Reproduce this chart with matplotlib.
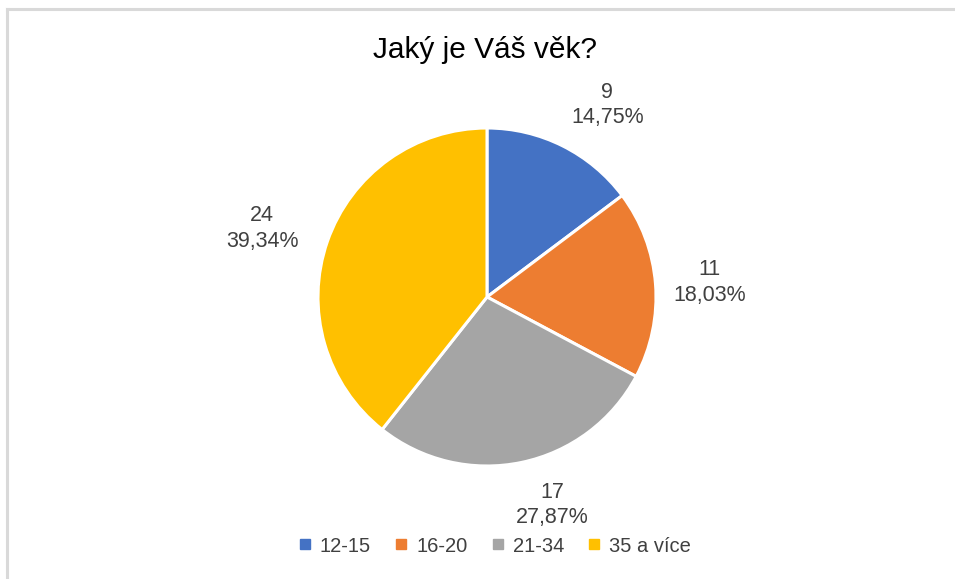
import matplotlib
matplotlib.use('Agg')
import matplotlib.pyplot as plt
from matplotlib.lines import Line2D
import numpy as np

# Data
categories = ['12-15', '16-20', '21-34', '35 a více']
counts = [9, 11, 17, 24]
percents = ['14,75%', '18,03%', '27,87%', '39,34%']
colors = ['#4472C4', '#ED7D31', '#A5A5A5', '#FFC000']

TXT = '#404040'
FONT = 'Liberation Sans'

fig = plt.figure(figsize=(9.55, 5.79), dpi=100)
fig.patch.set_facecolor('white')

# pie axes: center ~ (487, 282) px from bottom-left, radius ~169 px
lim = 1.6
R = 169
size = 2 * lim * R
ax = fig.add_axes([(487 - size / 2) / 955, (282 - size / 2) / 579, size / 955, size / 579])

wedges, _ = ax.pie(counts, colors=colors, startangle=90, counterclock=False,
                   radius=1.0, wedgeprops=dict(edgecolor='white', linewidth=2.2))
ax.set_xlim(-lim, lim)
ax.set_ylim(-lim, lim)
ax.set_aspect('equal')
ax.axis('off')

# data labels outside the slices (best-fit style nudges)
label_r = [1.34, 1.32, 1.29, 1.39]
label_shift = [-5.5, -0.7, 5.6, 2.2]
for w, n, p, r, s in zip(wedges, counts, percents, label_r, label_shift):
    th = np.deg2rad((w.theta1 + w.theta2) / 2 + s)
    ax.text(r * np.cos(th), r * np.sin(th), f'{n}\n{p}', ha='center', va='center',
            fontsize=15.5, color=TXT, family=FONT, linespacing=1.3)

fig.text(485 / 955, 1 - 50 / 579, 'Jaký je Váš věk?', ha='center', va='center',
         fontsize=21.5, color='black', family=FONT)

handles = [Line2D([0], [0], marker='s', linestyle='none', markersize=7,
                  markerfacecolor=c, markeredgecolor=c) for c in colors]
fig.legend(handles, categories, loc='center', bbox_to_anchor=(493 / 955, 33 / 579),
           ncol=4, frameon=False, prop={'family': FONT, 'size': 14.5},
           labelcolor=TXT, handletextpad=0.25, columnspacing=1.0, handlelength=1.0)

# light gray frame on top and left
fig.add_artist(Line2D([7 / 955, 1], [1 - 9 / 579, 1 - 9 / 579], color='#D9D9D9', lw=2.2,
                      transform=fig.transFigure))
fig.add_artist(Line2D([7 / 955, 7 / 955], [0, 1 - 9 / 579], color='#D9D9D9', lw=2.2,
                      transform=fig.transFigure))

fig.savefig('out.png', dpi=100, facecolor='white')
